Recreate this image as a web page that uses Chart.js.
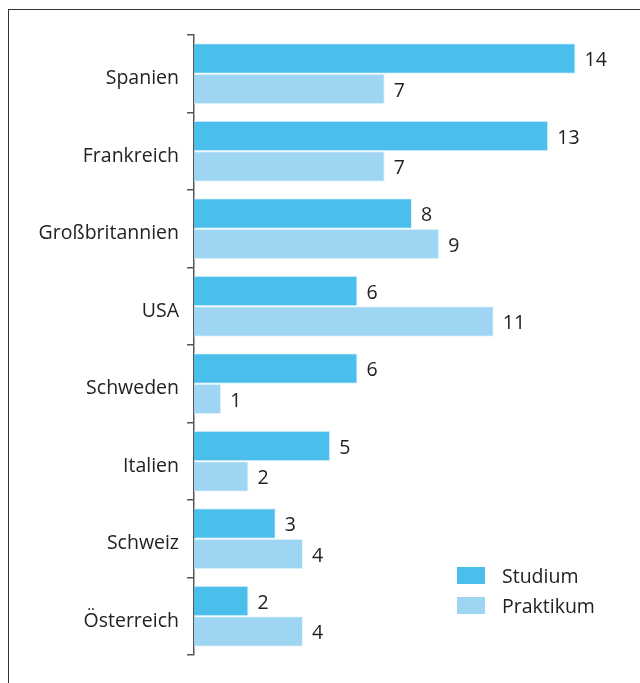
<!DOCTYPE html>
<html>
<head>
<meta charset="utf-8">
<script src="https://cdn.jsdelivr.net/npm/chart.js@4/dist/chart.umd.min.js"></script>
<style>
    html, body { margin: 0; padding: 0; background: #fff; }
    #wrap { position: relative; width: 640px; height: 683px; }
    #frame { position: absolute; left: 8px; top: 9px; right: -2px; bottom: -2px; border-left: 1px solid #333; border-top: 1px solid #333; }
    canvas { position: absolute; left: 0; top: 0; }
</style>
</head>
<body>
<div id="wrap">
    <div id="frame"></div>
    <canvas id="chart" width="640" height="683"></canvas>
</div>
<script>
    const countries = ['Spanien', 'Frankreich', 'Großbritannien', 'USA', 'Schweden', 'Italien', 'Schweiz', 'Österreich'];
    const studium = [14, 13, 8, 6, 6, 5, 3, 2];
    const praktikum = [7, 7, 9, 11, 1, 2, 4, 4];
    const seriesNames = ['Studium', 'Praktikum'];
    const seriesColors = ['#4bbfec', '#9dd5f2'];

    const FONT = '"Open Sans", "Noto Sans", sans-serif';
    const TEXT = '#222';

    // value labels just right of each bar
    const valueLabels = {
        id: 'valueLabels',
        afterDatasetsDraw(chart) {
            const ctx = chart.ctx;
            ctx.save();
            ctx.font = '19.5px ' + FONT;
            ctx.fillStyle = TEXT;
            ctx.textBaseline = 'middle';
            ctx.textAlign = 'left';
            chart.data.datasets.forEach((ds, i) => {
                chart.getDatasetMeta(i).data.forEach((bar, j) => {
                    ctx.fillText(String(ds.data[j]), bar.x + 9, bar.y + 2);
                });
            });
            ctx.restore();
        }
    };

    // small legend in the lower right corner
    const cornerLegend = {
        id: 'cornerLegend',
        afterDraw(chart) {
            const ctx = chart.ctx;
            const x = 457, y0 = 567, step = 30;
            ctx.save();
            ctx.font = '19.5px ' + FONT;
            ctx.textBaseline = 'middle';
            chart.data.datasets.forEach((ds, i) => {
                const y = y0 + i * step;
                ctx.fillStyle = ds.backgroundColor;
                ctx.fillRect(x, y, 28, 17);
                ctx.fillStyle = TEXT;
                ctx.fillText(ds.label, x + 45, y + 10);
            });
            ctx.restore();
        }
    };

    const ctx = document.getElementById('chart').getContext('2d');
    new Chart(ctx, {
        type: 'bar',
        data: {
            labels: countries,
            datasets: [
                {
                    label: seriesNames[0],
                    data: studium,
                    backgroundColor: seriesColors[0],
                    borderColor: '#e3f4fc',
                    borderWidth: 1,
                    categoryPercentage: 0.79,
                    barPercentage: 1.0
                },
                {
                    label: seriesNames[1],
                    data: praktikum,
                    backgroundColor: seriesColors[1],
                    borderColor: '#eaf6fd',
                    borderWidth: 1,
                    categoryPercentage: 0.79,
                    barPercentage: 1.0
                }
            ]
        },
        options: {
            indexAxis: 'y',
            responsive: false,
            animation: false,
            layout: { padding: { top: 35, bottom: 28, left: 0, right: 10 } },
            plugins: {
                legend: { display: false },
                tooltip: { enabled: false }
            },
            scales: {
                x: {
                    display: false,
                    min: 0,
                    max: 16
                },
                y: {
                    afterFit(scale) { scale.width = 194; },
                    border: { display: true, color: '#555', width: 1.5 },
                    grid: {
                        offset: true,
                        drawOnChartArea: false,
                        drawTicks: true,
                        tickLength: 7,
                        color: '#555',
                        lineWidth: 1.5
                    },
                    ticks: {
                        color: TEXT,
                        padding: 8,
                        labelOffset: 5,
                        font: { family: FONT, size: 19.5 }
                    }
                }
            }
        },
        plugins: [valueLabels, cornerLegend]
    });
</script>
</body>
</html>
